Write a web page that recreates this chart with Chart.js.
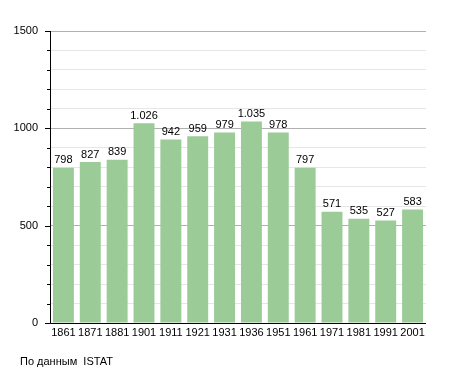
<!DOCTYPE html>
<html>
<head>
<meta charset="utf-8">
<script src="https://cdn.jsdelivr.net/npm/chart.js@4/dist/chart.umd.min.js"></script>
<style>
html,body{margin:0;padding:0;background:#fff;}
#wrap{position:relative;width:455px;height:373px;}
#note{position:absolute;left:20px;top:355px;font:11px "Liberation Sans",Arial,sans-serif;color:#000;}
</style>
</head>
<body>
<div id="wrap">
<canvas id="c" width="455" height="373"></canvas>
<div id="note">По данным&nbsp; ISTAT</div>
</div>
<script>
const years = ["1861","1871","1881","1901","1911","1921","1931","1936","1951","1961","1971","1981","1991","2001"];
const population = [798,827,839,1026,942,959,979,1035,978,797,571,535,527,583];
const yMax = 1500;
const yStep = 100;
const yLabelStep = 500;

const FONT = '"Liberation Sans", Arial, sans-serif';
function fmt(v){ return String(v).replace(/\B(?=(\d{3})+(?!\d))/g, '.'); }

const extras = {
  id: 'extras',
  afterDatasetsDraw(chart){
    const ctx = chart.ctx;
    const meta = chart.getDatasetMeta(0);
    ctx.save();
    ctx.font = '11px ' + FONT;
    ctx.fillStyle = '#000';
    ctx.textAlign = 'center';
    ctx.textBaseline = 'bottom';
    meta.data.forEach((bar, i) => {
      ctx.fillText(fmt(population[i]), bar.x, bar.y - 2);
    });
    const a = chart.chartArea;
    const ys = chart.scales.y;
    ctx.strokeStyle = '#000';
    ctx.lineWidth = 1;
    ctx.beginPath();
    ctx.moveTo(a.left + 0.5, a.top);
    ctx.lineTo(a.left + 0.5, a.bottom + 0.5);
    ctx.lineTo(a.right, a.bottom + 0.5);
    ctx.stroke();
    ctx.beginPath();
    for (let v = 0; v <= yMax; v += yStep) {
      const y = Math.round(ys.getPixelForValue(v)) + 0.5;
      const len = (v % yLabelStep === 0) ? 5 : 3;
      ctx.moveTo(a.left - len, y);
      ctx.lineTo(a.left + 0.5, y);
    }
    ctx.stroke();
    ctx.restore();
  }
};

new Chart(document.getElementById('c'), {
  type: 'bar',
  data: {
    labels: years,
    datasets: [{
      data: population,
      backgroundColor: '#9bcc98',
      borderWidth: 0,
      categoryPercentage: 1.0,
      barPercentage: 0.78
    }]
  },
  options: {
    responsive: false,
    animation: false,
    devicePixelRatio: 1,
    layout: { padding: { top: 31, right: 29, left: 0, bottom: 0 } },
    plugins: { legend: { display: false }, tooltip: { enabled: false } },
    scales: {
      x: {
        grid: { display: false, drawTicks: false },
        border: { display: false },
        ticks: { color: '#000', font: { family: FONT, size: 11 }, padding: 3, maxRotation: 0, autoSkip: false },
        afterFit(s){ s.height = 50; }
      },
      y: {
        min: 0, max: yMax,
        grid: {
          drawTicks: false,
          color: ctx => (ctx.tick && ctx.tick.value % yLabelStep === 0) ? '#b0b0b0' : '#e6e6e6',
          lineWidth: 1
        },
        border: { display: false },
        ticks: {
          stepSize: yStep,
          autoSkip: false,
          padding: 12,
          color: '#000',
          font: { family: FONT, size: 11 },
          callback: v => (v % yLabelStep === 0) ? String(v) : ''
        },
        afterFit(s){ s.width = 50; }
      }
    }
  },
  plugins: [extras]
});
</script>
</body>
</html>
